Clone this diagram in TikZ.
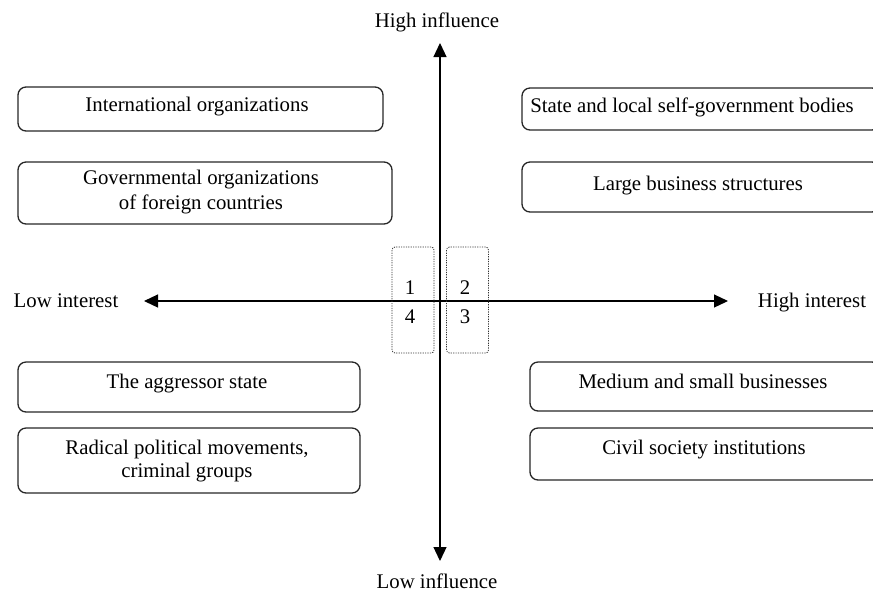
\documentclass[tikz,border=0pt]{standalone}
\usepackage{fontspec}
\setmainfont{Liberation Serif}
\usetikzlibrary{arrows.meta}
\begin{document}
\begin{tikzpicture}[x=0.5pt,y=-0.5pt,
  every node/.style={font=\fontsize{10.4}{12.5}\selectfont},
  box/.style={draw=black!85,line width=0.65pt,rounded corners=4pt,minimum width=#1,inner sep=0pt},
  lbl/.style={anchor=base,inner sep=0pt,align=center},
  quad/.style={draw=black!80,line width=0.4pt,dash pattern=on 0.6pt off 0.6pt,rounded corners=1.5pt,minimum width=21pt,minimum height=53pt,inner sep=0pt},
  axis/.style={line width=0.6pt,-{Triangle[length=7pt,width=6.5pt]}}]
\useasboundingbox (0,0) rectangle (873,591);
\clip (0,0) rectangle (873,591);
% axes
\coordinate (O) at (440,301);
\coordinate (top) at (440,43);
\coordinate (bot) at (440,561);
\coordinate (lft) at (144,301);
\coordinate (rgt) at (728,301);
\draw[axis] (O) -- (top);
\draw[axis] (O) -- (bot);
\draw[axis] (O) -- (lft);
\draw[axis] (O) -- (rgt);
\node[lbl] (hi) at (437,27) {High influence};
\node[lbl] (li) at (437,588) {Low influence};
\node[lbl] (lint) at (66,307) {Low interest};
\node[lbl] (hint) at (812,307) {High interest};
% quadrant boxes
\node[quad] (q14) at (413,300) {};
\node[quad] (q23) at (467.5,300) {};
\node[lbl] (n1) at (410,294) {1};
\node[lbl] (n4) at (410,323) {4};
\node[lbl] (n2) at (465,294) {2};
\node[lbl] (n3) at (465,323) {3};
% left boxes
\node[box=182.5pt,minimum height=22pt] (b1) at (200.5,109) {};
\node[box=187pt,minimum height=31pt] (b2) at (205,193) {};
\node[box=171pt,minimum height=25pt] (b3) at (189,387) {};
\node[box=171pt,minimum height=32.5pt] (b4) at (189,460.5) {};
\node[lbl] (t1) at (197,111) {International organizations};
\node[lbl] (t2) at (201,209) {Governmental organizations\\of foreign countries};
\node[lbl] (t3) at (187,388) {The aggressor state};
\node[lbl,font=\fontsize{10.4}{11.5}\selectfont] (t4) at (187,477) {Radical political movements,\\criminal groups};
% right boxes
\node[box=179pt,minimum height=21pt] (r1) at (701,109) {};
\node[box=179pt,minimum height=25pt] (r2) at (701,187) {};
\node[box=175pt,minimum height=24.5pt] (r3) at (705,386.5) {};
\node[box=175pt,minimum height=26pt] (r4) at (705,454) {};
\node[lbl] (s1) at (692,112) {State and local self-government bodies};
\node[lbl] (s2) at (698,190) {Large business structures};
\node[lbl] (s3) at (703,388) {Medium and small businesses};
\node[lbl] (s4) at (704,454) {Civil society institutions};
\end{tikzpicture}
\end{document}
